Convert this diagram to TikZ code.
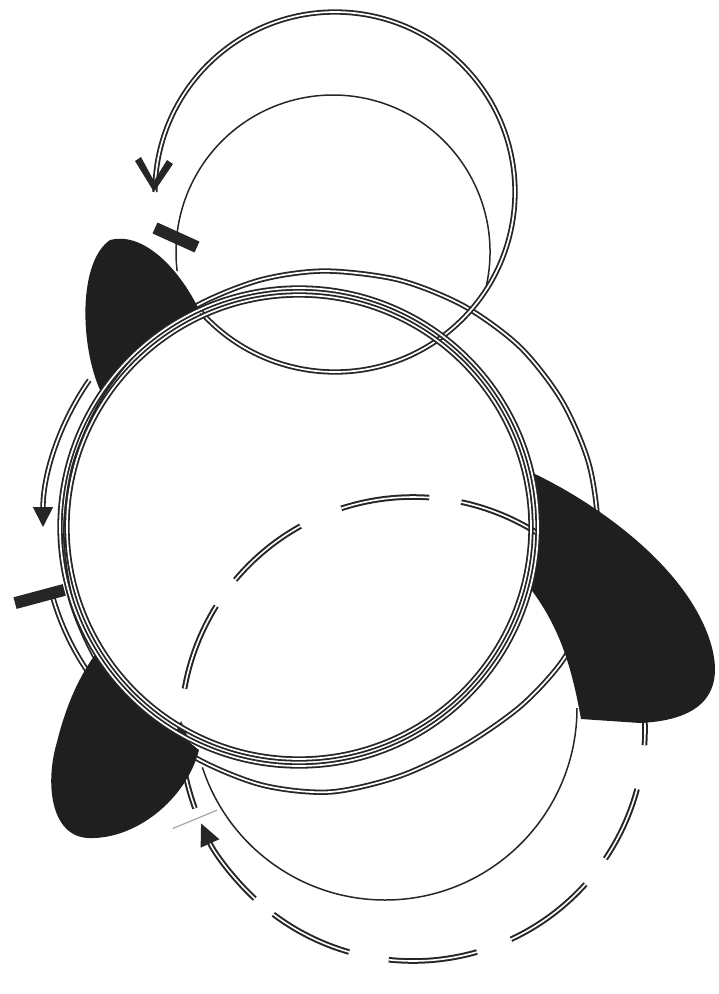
\documentclass[tikz,border=0pt]{standalone}
\usepackage{tikz}
\usetikzlibrary{arrows.meta, calc}
\tikzset{
    ring/.style={draw=black!85, double=white, line width=1.8pt, double distance=1.7pt},
    dring/.style={draw=black!85, double=white, line width=2pt, double distance=1.6pt},
    thinline/.style={draw=black!85, line width=1.5pt},
    blob/.style={fill=black!88},
    tbar/.style={draw=black!85, line width=12pt},
    chevron/.style={fill=black!85},
    tick/.style={draw=black!35, line width=1.2pt}
}

\begin{document}
\begin{tikzpicture}[x=1pt, y=-1pt]
  \useasboundingbox (0,0) rectangle (719,994);
  % centres
  \coordinate (cA) at (299,527);
  \coordinate (cL) at (335,192);
  \coordinate (cT) at (333,252);
  \coordinate (cD) at (413,729);
  \coordinate (cS) at (385,708);

  % outer ring
  \draw[ring] plot[smooth cycle] coordinates {(325,271) (399,280) (464,306) (520,347) (562,401) (589,464) (598,532) (589,600) (565,657) (522,705) (465,745) (400,776) (330,792) (262,785) (196,758) (140,716) (98,662) (71,600) (62,532) (71,464) (98,401) (140,347) (196,306) (260,280)};

  % top circle and loop
  \draw[thinline] (cT) ++(16:157) arc[start angle=16, end angle=-187, radius=157];
  \draw[ring] (cL) ++(138:180) arc[start angle=138, end angle=-180, radius=180];
  \fill[chevron] (135,161) -- (154,192) -- (173,164) -- (167,160) -- (154,181) -- (141,157) -- cycle;

  % dashed circle
  \foreach \a/\b in {-10/4, 15/34, 42/65, 74/96, 106/127, 190/212, 220/241, 252/274, 282/302}
    \draw[dring] (cD) ++(\a:232) arc[start angle=\a, end angle=\b, radius=232];
  \draw[dring, -{Triangle[length=22pt, width=20pt]}] (cD) ++(133:232) arc[start angle=133, end angle=156, radius=232];
  \draw[dring, -{Triangle[length=14pt, width=12pt]}] (cD) ++(160:232) arc[start angle=160, end angle=182, radius=232];

  % lower thin circle
  \draw[thinline] (cS) ++(0:192) arc[start angle=0, end angle=162, radius=192];

  % outer left arcs
  \draw[ring, -{Triangle[length=20pt, width=20pt]}] (cA) ++(215:256) arc[start angle=215, end angle=180, radius=256];
  \draw[ring] (cA) ++(146:256) arc[start angle=146, end angle=165, radius=256];

  % blobs
  \fill[blob] ($(cA)+(-145.5:241)$) arc[start angle=-145.5, end angle=-114.7, radius=241]
    .. controls (175,262) and (140,232) .. (110,240)
    .. controls (78,262) and (80,345) .. (100,390) -- cycle;
  \fill[blob] ($(cA)+(-13:240)$) .. controls (590,500) and (680,560) .. (708,635)
    .. controls (728,690) and (705,720) .. (640,723) -- (581,719)
    .. controls (572,668) and (560,628) .. ($(cA)+(15:240)$)
    arc[start angle=15, end angle=-13, radius=240] -- cycle;
  \fill[blob] ($(cA)+(148:240)$) arc[start angle=148, end angle=119, radius=240]
    -- (199,750) .. controls (186,800) and (135,840) .. (88,838)
    .. controls (50,836) and (45,782) .. (57,742)
    .. controls (66,705) and (80,675) .. (95.5,654.2) -- cycle;

  % inner rings
  \draw[ring] (cA) circle[radius=239];
  \draw[ring] (cA) circle[radius=232];

  % bars
  \draw[tbar] (155,228) -- (197,247);
  \draw[tbar] ($(cA)+(165:243)$) -- ($(cA)+(165:294)$);
  \draw[tick] ($(cD)+(157.5:212)$) -- ($(cD)+(157.5:260)$);
\end{tikzpicture}
\end{document}
